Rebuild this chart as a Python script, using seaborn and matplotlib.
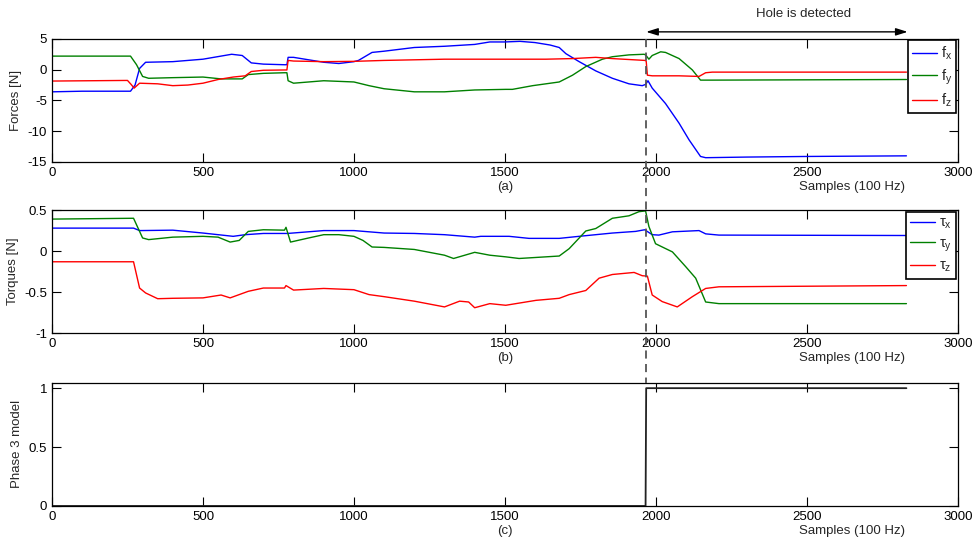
import matplotlib
matplotlib.use('Agg')
import matplotlib.pyplot as plt
import matplotlib.transforms as mtransforms
from matplotlib.lines import Line2D
import seaborn as sns

# ---- forces (panel a) ----
fx_t = [0, 100, 260, 275, 290, 310, 400, 500, 595, 630, 660, 700, 770, 778, 782, 800, 850, 900, 950, 1000,
        1015, 1060, 1100, 1200, 1300, 1400, 1450, 1500, 1550, 1600, 1650, 1680, 1702, 1746, 1801, 1856, 1911,
        1955, 1966, 1974, 1988, 2032, 2077, 2110, 2148, 2165, 2300, 2500, 2830]
fx_v = [-3.6, -3.5, -3.5, -2.5, 0.2, 1.2, 1.3, 1.7, 2.5, 2.3, 1.1, 0.9, 0.8, 0.8, 2.0, 2.0, 1.6, 1.2, 1.0, 1.3,
        1.5, 2.8, 3.0, 3.6, 3.8, 4.1, 4.5, 4.5, 4.6, 4.4, 4.0, 3.6, 2.6, 1.3, -0.2, -1.4, -2.3,
        -2.6, -2.4, -1.8, -3.0, -5.5, -8.7, -11.4, -14.1, -14.3, -14.2, -14.1, -14.0]

fy_t = [0, 260, 280, 300, 320, 400, 500, 560, 630, 650, 700, 770, 778, 782, 800, 850, 900, 1000, 1050, 1100,
        1200, 1300, 1400, 1503, 1525, 1592, 1680, 1724, 1768, 1823, 1856, 1911, 1961, 1966, 1977, 1988, 2016,
        2032, 2077, 2121, 2148, 2187, 2500, 2830]
fy_v = [2.2, 2.2, 0.8, -1.1, -1.4, -1.3, -1.2, -1.5, -1.5, -0.8, -0.6, -0.5, -0.5, -1.8, -2.2, -2.0, -1.8, -2.0, -2.6, -3.1,
        -3.6, -3.6, -3.3, -3.2, -3.2, -2.6, -2.0, -0.9, 0.5, 1.7, 2.1, 2.4, 2.5, 2.4, 1.7, 2.3, 2.9,
        2.8, 1.8, -0.05, -1.7, -1.7, -1.65, -1.6]

fz_t = [0, 250, 262, 272, 290, 350, 400, 450, 500, 550, 600, 640, 660, 700, 770, 778, 782, 800, 900, 1000,
        1100, 1200, 1300, 1500, 1636, 1724, 1801, 1856, 1964, 1968, 1972, 1988, 2077, 2143, 2165, 2187, 2500, 2830]
fz_v = [-1.85, -1.75, -2.4, -3.0, -2.2, -2.3, -2.6, -2.5, -2.2, -1.6, -1.2, -1.0, -0.3, -0.1, -0.05, -0.05, 1.5, 1.4, 1.3, 1.35,
        1.5, 1.6, 1.7, 1.7, 1.7, 1.8, 2.0, 1.8, 1.5, 1.4, -0.9, -1.0, -1.0, -1.1, -0.5, -0.4, -0.4, -0.4]

# ---- torques (panel b) ----
tx_t = [0, 270, 290, 400, 500, 600, 640, 700, 780, 900, 1000, 1100, 1200, 1300, 1400, 1420, 1514, 1580, 1680,
        1746, 1856, 1933, 1963, 1988, 2010, 2055, 2143, 2165, 2209, 2830]
tx_v = [0.28, 0.28, 0.25, 0.255, 0.22, 0.18, 0.2, 0.215, 0.215, 0.25, 0.25, 0.22, 0.215, 0.2, 0.17, 0.18, 0.18, 0.155, 0.155,
        0.18, 0.22, 0.24, 0.26, 0.2, 0.195, 0.235, 0.25, 0.21, 0.195, 0.19]

ty_t = [0, 270, 300, 320, 400, 500, 550, 590, 620, 650, 700, 770, 775, 790, 850, 900, 950, 1000, 1030, 1060,
        1100, 1200, 1300, 1330, 1400, 1450, 1503, 1547, 1680, 1713, 1768, 1801, 1856, 1911, 1944, 1966, 1977,
        1999, 2055, 2099, 2132, 2165, 2209, 2830]
ty_v = [0.39, 0.4, 0.16, 0.14, 0.17, 0.18, 0.17, 0.11, 0.13, 0.24, 0.26, 0.255, 0.29, 0.11, 0.16, 0.2, 0.2, 0.18, 0.13, 0.05,
        0.045, 0.02, -0.05, -0.09, -0.015, -0.05, -0.07, -0.09, -0.06, 0.03, 0.245, 0.275, 0.4, 0.43, 0.48, 0.49, 0.3,
        0.09, -0.01, -0.19, -0.33, -0.62, -0.64, -0.64]

tz_t = [0, 270, 290, 310, 350, 400, 500, 560, 590, 650, 700, 770, 775, 800, 900, 1000, 1050, 1100, 1200, 1300,
        1350, 1380, 1400, 1450, 1503, 1603, 1680, 1713, 1768, 1812, 1856, 1928, 1955, 1972, 1988, 2021, 2071,
        2121, 2165, 2209, 2830]
tz_v = [-0.13, -0.13, -0.45, -0.51, -0.58, -0.575, -0.57, -0.535, -0.57, -0.49, -0.45, -0.45, -0.42, -0.475, -0.455, -0.47, -0.53, -0.555, -0.61, -0.68,
        -0.61, -0.62, -0.69, -0.64, -0.66, -0.6, -0.575, -0.53, -0.48, -0.33, -0.285, -0.26, -0.3, -0.305, -0.535, -0.615, -0.68,
        -0.555, -0.455, -0.435, -0.42]

# ---- phase 3 model output (panel c) ----
phase_t = [0, 1966, 1968, 2830]
phase_v = [0, 0, 1, 1]

detect_at = 1968
detect_end = 2834
x_ticks = [0, 500, 1000, 1500, 2000, 2500, 3000]

sns.set_style('ticks')
plt.rcParams['font.family'] = ['Liberation Sans', 'DejaVu Sans']
plt.rcParams['mathtext.fontset'] = 'custom'
plt.rcParams['mathtext.rm'] = 'Liberation Sans'
plt.rcParams['mathtext.it'] = 'Liberation Sans:italic'
plt.rcParams['axes.unicode_minus'] = False
plt.rcParams['xtick.direction'] = 'in'
plt.rcParams['ytick.direction'] = 'in'
plt.rcParams['xtick.top'] = True
plt.rcParams['ytick.right'] = True
plt.rcParams['xtick.major.size'] = 6.5
plt.rcParams['ytick.major.size'] = 6.5
plt.rcParams['xtick.labelsize'] = 9.5
plt.rcParams['ytick.labelsize'] = 9.5
plt.rcParams['axes.linewidth'] = 0.9

fig = plt.figure(figsize=(9.76, 5.4), dpi=100)
ax_a = fig.add_axes([0.0533, 0.700, 0.928, 0.228])
ax_b = fig.add_axes([0.0533, 0.383, 0.928, 0.228])
ax_c = fig.add_axes([0.0533, 0.063, 0.928, 0.228])

blue, green, red = '#0000ff', '#008000', '#ff0000'

def draw(ax, t, v, color, label=None, lw=1.0):
    sns.lineplot(x=t, y=v, ax=ax, color=color, lw=lw, label=label, estimator=None, sort=False)

# (a) forces
draw(ax_a, fx_t, fx_v, blue, r'f$_{\rm x}$')
draw(ax_a, fy_t, fy_v, green, r'f$_{\rm y}$')
draw(ax_a, fz_t, fz_v, red, r'f$_{\rm z}$')
ax_a.set_ylim(-15, 5)
ax_a.set_yticks([-15, -10, -5, 0, 5])
ax_a.set_ylabel('Forces [N]', fontsize=9.5)

# (b) torques
draw(ax_b, tx_t, tx_v, blue, r'τ$_{\rm x}$')
draw(ax_b, ty_t, ty_v, green, r'τ$_{\rm y}$')
draw(ax_b, tz_t, tz_v, red, r'τ$_{\rm z}$')
ax_b.set_ylim(-1, 0.5)
ax_b.set_yticks([-1, -0.5, 0, 0.5])
ax_b.set_yticklabels(['-1', '-0.5', '0', '0.5'])
ax_b.set_ylabel('Torques [N]', fontsize=9.5)

# (c) phase 3 detection
draw(ax_c, phase_t, phase_v, '#222222', lw=1.3)
ax_c.set_ylim(0, 1.045)
ax_c.set_yticks([0, 0.5, 1])
ax_c.set_yticklabels(['0', '0.5', '1'])
ax_c.set_ylabel('Phase 3 model', fontsize=9.5)

for ax, tag in [(ax_a, '(a)'), (ax_b, '(b)'), (ax_c, '(c)')]:
    ax.set_xlim(0, 3000)
    ax.set_xticks(x_ticks)
    ax.set_xticklabels([str(t) for t in x_ticks])
    ax.set_xlabel('')
    for s in ax.spines.values():
        s.set_visible(True)
        s.set_color('black')
    ax.tick_params(colors='black', width=0.8)
    trans = mtransforms.blended_transform_factory(ax.transData, ax.transAxes)
    ax.text(1500, -0.205, tag, transform=trans, ha='center', va='center', fontsize=9.5)
    ax.text(2650, -0.205, 'Samples (100 Hz)', transform=trans, ha='center', va='center', fontsize=9.5)

for ax in (ax_a, ax_b):
    leg = ax.legend(loc='upper right', fontsize=10.5, frameon=True, fancybox=False, framealpha=1,
                    edgecolor='black', borderaxespad=0.1, handlelength=1.7, handletextpad=0.25,
                    labelspacing=0.35, borderpad=0.3)
    leg.get_frame().set_linewidth(1.2)

# dashed detection marker spanning the panels
ftrans = mtransforms.blended_transform_factory(ax_a.transData, fig.transFigure)
fig.add_artist(Line2D([detect_at, detect_at], [0.928, 0.291], transform=ftrans,
                      color='#555555', lw=1.3, linestyle=(0, (4.5, 3))))

# "Hole is detected" span arrow
ax_a.annotate('', xy=(detect_at, 0.941), xytext=(detect_end, 0.941),
              xycoords=ftrans, textcoords=ftrans,
              arrowprops=dict(arrowstyle='<|-|>,head_length=0.7,head_width=0.22', color='black',
                              lw=1.0, shrinkA=0, shrinkB=0), annotation_clip=False)
fig.text(2490, 0.974, 'Hole is detected', transform=ftrans, ha='center', va='center', fontsize=9.5)

fig.savefig('out.png', dpi=100)
